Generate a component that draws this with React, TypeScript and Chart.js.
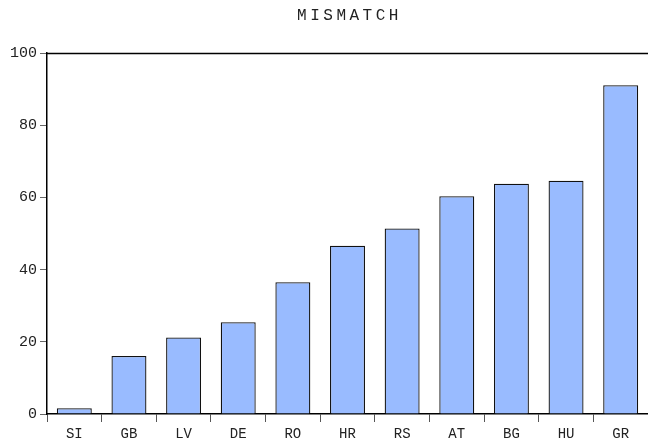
import React, { useEffect, useRef } from "react";
import { Chart, registerables } from "chart.js";

Chart.register(...registerables);

const categories = ["SI", "GB", "LV", "DE", "RO", "HR", "RS", "AT", "BG", "HU", "GR"];
const mismatch = [1.6, 16.1, 21.2, 25.4, 36.5, 46.6, 51.4, 60.3, 63.8, 64.6, 91.1];
const yTicks = [0, 20, 40, 60, 80, 100];
const titleText = "MISMATCH";

const FONT = "'Liberation Mono', 'DejaVu Sans Mono', monospace";

const frame = {
  id: "frame",
  afterDraw(chart: any) {
    const { ctx, chartArea } = chart;
    ctx.save();
    ctx.strokeStyle = "#000";
    ctx.lineWidth = 1.5;
    ctx.beginPath();
    ctx.moveTo(chartArea.left, chartArea.top + 0.5);
    ctx.lineTo(chart.width, chartArea.top + 0.5);
    ctx.stroke();
    ctx.fillStyle = "#222";
    ctx.font = `16px ${FONT}`;
    (ctx as any).letterSpacing = "3.5px";
    ctx.textAlign = "center";
    ctx.textBaseline = "middle";
    ctx.fillText(titleText, (chartArea.left + chartArea.right) / 2 + 2, 16);
    ctx.restore();
  },
};

export default function App() {
  const ref = useRef<HTMLCanvasElement>(null);
  useEffect(() => {
    if (!ref.current) return;
    const chart = new Chart(ref.current, {
      type: "bar",
      data: {
        labels: categories,
        datasets: [
          {
            data: mismatch,
            backgroundColor: "#99bbff",
            borderColor: "#111",
            borderWidth: 1.3,
            categoryPercentage: 1,
            barPercentage: 0.64,
          },
        ],
      },
      options: {
        animation: false,
        responsive: false,
        maintainAspectRatio: false,
        layout: { padding: { top: 53, right: 0, left: 0, bottom: 0 } },
        plugins: { legend: { display: false }, title: { display: false }, tooltip: { enabled: false } },
        scales: {
          x: {
            offset: true,
            grid: {
              offset: true,
              drawOnChartArea: false,
              drawTicks: true,
              tickLength: 8,
              color: "#555",
            },
            border: { display: true, color: "#000", width: 1.5 },
            ticks: {
              font: { family: FONT, size: 14 },
              color: "#222",
              padding: 4,
              maxRotation: 0,
            },
            afterFit: (s: any) => {
              s.height = 27;
            },
          },
          y: {
            min: 0,
            max: 100,
            afterBuildTicks: (s: any) => {
              s.ticks = yTicks.map((v) => ({ value: v }));
            },
            grid: { drawOnChartArea: false, tickLength: 7, color: "#666" },
            border: { display: true, color: "#000", width: 1.5 },
            ticks: {
              font: { family: FONT, size: 15 },
              color: "#222",
              padding: 3,
            },
            afterFit: (s: any) => {
              s.width = 47;
            },
          },
        },
      },
      plugins: [frame],
    });
    return () => chart.destroy();
  }, []);
  return (
    <div style={{ position: "absolute", left: 0, top: 0, width: 648, height: 441, background: "#fff" }}>
      <canvas ref={ref} width={648} height={441} style={{ display: "block" }} />
    </div>
  );
}
